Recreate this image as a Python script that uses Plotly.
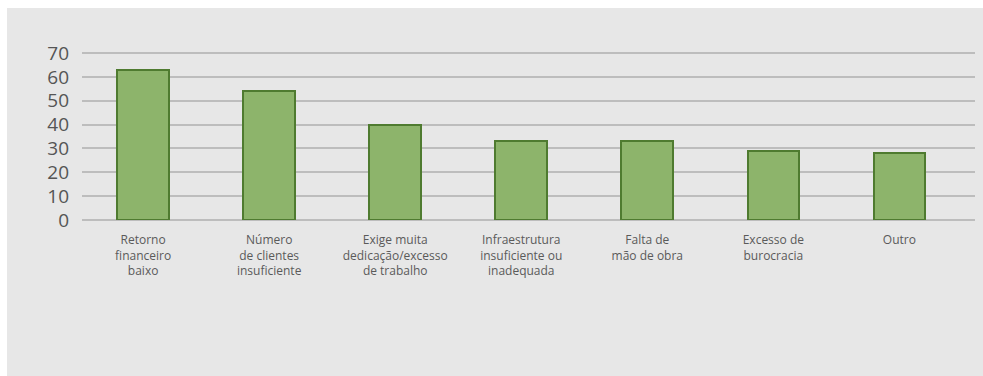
import plotly.graph_objects as go

# Reasons reported (Portuguese), and the share of respondents citing each
categories = [
    "Retorno<br>financeiro<br>baixo",
    "Número<br>de clientes<br>insuficiente",
    "Exige muita<br>dedicação/excesso<br>de trabalho",
    "Infraestrutura<br>insuficiente ou<br>inadequada",
    "Falta de<br>mão de obra",
    "Excesso de<br>burocracia",
    "Outro",
]
values = [63, 54, 40, 33, 33, 29, 28]
y_ticks = [0, 10, 20, 30, 40, 50, 60, 70]

W, H = 983, 376
ML, MR, MT, MB = 82, 8, 51, 156
pw, ph = W - ML - MR, H - MT - MB

x_pos = list(range(len(categories)))

fig = go.Figure(
    go.Bar(
        x=x_pos,
        y=values,
        width=0.41,
        marker=dict(color="#8db46b", line=dict(color="#4f7b30", width=2)),
    )
)

bg = "#e7e7e7"

# white strip along the top and left edges of the page
def px_x(p):
    return (p - ML) / pw

def px_y(p):
    return 1 - (p - MT) / ph

fig.add_shape(type="rect", xref="paper", yref="paper",
              x0=px_x(0), x1=px_x(W), y0=px_y(0), y1=px_y(8),
              fillcolor="white", line_width=0, layer="below")
fig.add_shape(type="rect", xref="paper", yref="paper",
              x0=px_x(0), x1=px_x(7), y0=px_y(0), y1=px_y(H),
              fillcolor="white", line_width=0, layer="below")

fig.update_layout(
    width=W,
    height=H,
    margin=dict(l=ML, r=MR, t=MT, b=MB, pad=0),
    paper_bgcolor=bg,
    plot_bgcolor=bg,
    showlegend=False,
    bargap=0,
    font=dict(family="Open Sans", color="#595959"),
    xaxis=dict(
        tickmode="array",
        tickvals=x_pos,
        ticktext=categories,
        range=[-0.485, 6.6],
        showgrid=False,
        zeroline=False,
        showline=False,
        ticks="",
        tickfont=dict(size=12, color="#5a5a5a"),
        ticklabelstandoff=11,
        fixedrange=True,
    ),
    yaxis=dict(
        range=[0, 70.9],
        tickmode="array",
        tickvals=y_ticks,
        showgrid=True,
        gridcolor="#bdbdbd",
        gridwidth=2,
        zeroline=True,
        zerolinecolor="#bdbdbd",
        zerolinewidth=2,
        showline=False,
        ticks="",
        tickfont=dict(size=19, color="#555555"),
        ticklabelstandoff=12,
        fixedrange=True,
    ),
)

fig.write_html("out.html", config={"displayModeBar": False})
